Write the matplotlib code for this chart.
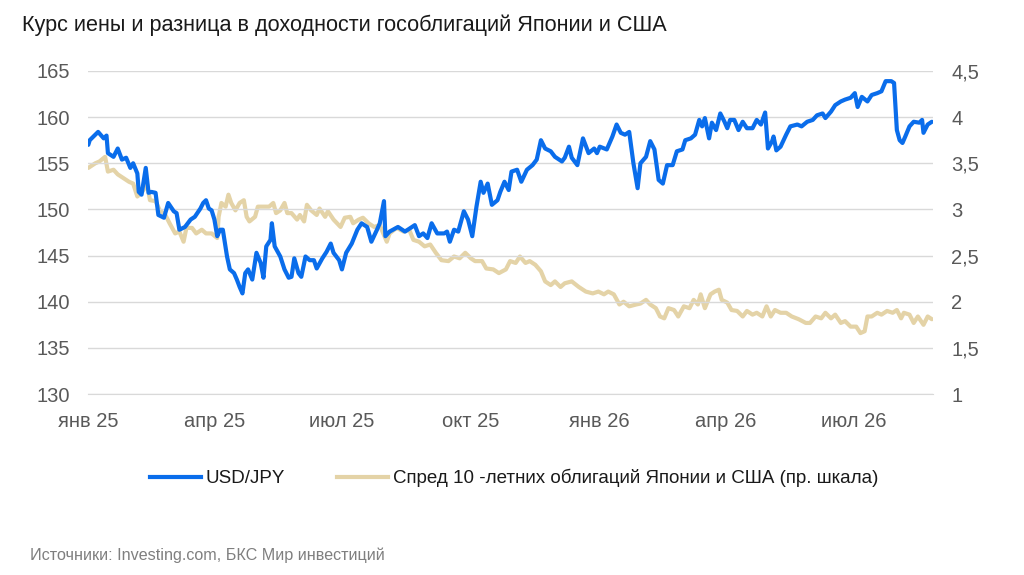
import matplotlib
matplotlib.use("Agg")
import matplotlib.pyplot as plt
import pandas as pd
from matplotlib.lines import Line2D

plt.rcParams['font.family'] = ['Liberation Sans', 'DejaVu Sans']

# ---- data (days since 2025-01-01) ----
usd_days = [0, 1, 7, 11, 13, 14, 18, 21, 24, 27, 30, 32, 35, 36, 38, 41, 43, 45, 48, 50,
            54, 57, 61, 63, 65, 69, 73, 76, 80, 82, 84, 86, 88, 90, 92, 94, 96, 99, 101, 104,
            106, 108, 110, 112, 114, 117, 120, 123, 125, 127, 130, 131, 133, 137, 140, 143, 145, 147, 150, 152,
            155, 158, 161, 163, 167, 170, 173, 175, 179, 181, 184, 188, 192, 195, 199, 202, 206, 208, 211, 212,
            215, 221, 226, 230, 233, 236, 239, 242, 245, 249, 254, 256, 258, 261, 264, 268, 271, 274, 277, 280,
            282, 285, 288, 292, 294, 297, 300, 302, 306, 309, 313, 317, 320, 323, 326, 330, 333, 338, 340, 343,
            345, 349, 353, 357, 361, 363, 365, 370, 374, 377, 380, 383, 386, 389, 392, 394, 398, 401, 404, 407,
            410, 413, 417, 420, 424, 426, 430, 433, 436, 438, 440, 443, 445, 448, 451, 454, 456, 458, 461, 464,
            467, 470, 474, 477, 480, 483, 485, 488, 489, 491, 494, 498, 501, 506, 509, 513, 517, 520, 524, 526,
            530, 533, 537, 540, 544, 547, 549, 552, 556, 559, 563, 566, 569, 573, 575, 577, 579, 581, 583, 586,
            589, 593, 595, 596, 599, 602]
usd_jpy = [157.0, 157.5, 158.4, 157.7, 158.0, 156.1, 155.7, 156.6, 155.4, 155.6, 154.5, 155.0, 153.9, 151.9, 151.6, 154.5, 151.8, 151.9, 151.8, 149.4,
           149.1, 150.7, 149.8, 149.6, 147.8, 148.1, 148.9, 149.2, 150.1, 150.7, 151.0, 150.1, 149.9, 148.9, 147.1, 147.8, 147.8, 144.9, 143.5, 143.1,
           142.4, 141.6, 140.9, 143.1, 143.5, 142.4, 145.3, 144.2, 142.6, 146.0, 146.7, 148.5, 146.0, 144.9, 143.5, 142.6, 142.7, 144.7, 143.1, 142.7,
           144.9, 144.5, 144.5, 143.6, 144.7, 145.4, 146.3, 145.3, 144.5, 143.5, 145.3, 146.3, 147.8, 148.5, 148.1, 146.5, 147.8, 148.5, 150.9, 147.1,
           147.6, 148.1, 147.6, 148.0, 148.3, 147.1, 147.4, 146.9, 148.5, 147.4, 147.4, 147.6, 146.5, 147.8, 147.6, 149.8, 148.9, 147.1, 150.3, 153.0,
           151.8, 152.8, 150.5, 151.0, 151.9, 153.0, 152.1, 154.1, 154.3, 153.0, 154.3, 154.8, 155.4, 157.5, 156.6, 156.3, 155.7, 155.2, 155.6, 156.8,
           155.6, 154.8, 157.7, 156.1, 156.6, 156.1, 156.8, 156.5, 157.9, 159.2, 158.3, 158.1, 158.4, 155.0, 152.3, 155.0, 155.7, 157.4, 156.5, 153.2,
           152.8, 154.8, 154.8, 156.3, 156.5, 157.5, 157.7, 158.1, 159.7, 159.0, 159.9, 157.7, 159.4, 158.6, 160.4, 159.5, 158.8, 159.7, 159.7, 158.6,
           159.5, 158.8, 158.8, 159.7, 159.2, 160.5, 156.6, 157.4, 157.9, 156.4, 156.8, 158.1, 159.0, 159.2, 159.0, 159.5, 159.7, 160.2, 160.4, 159.9,
           160.6, 161.3, 161.7, 161.9, 162.1, 162.6, 161.1, 162.2, 161.7, 162.4, 162.6, 162.8, 163.9, 163.9, 163.7, 158.6, 157.5, 157.2, 157.9, 159.0,
           159.5, 159.4, 159.7, 158.3, 159.2, 159.5]

spread_days = [0, 5, 8, 12, 14, 18, 21, 25, 29, 32, 35, 38, 42, 44, 48, 51, 55, 58, 62, 65,
               68, 70, 74, 77, 81, 84, 88, 92, 93, 95, 98, 100, 102, 105, 108, 111, 113, 115, 119, 121,
               125, 129, 132, 134, 137, 140, 142, 145, 149, 151, 154, 156, 159, 163, 165, 169, 171, 175, 180, 183,
               187, 189, 193, 196, 200, 204, 208, 213, 215, 220, 225, 229, 232, 236, 240, 244, 248, 252, 257, 261,
               265, 269, 273, 276, 281, 284, 289, 293, 298, 301, 305, 308, 312, 315, 319, 323, 326, 330, 333, 337,
               340, 345, 350, 355, 360, 364, 368, 371, 375, 379, 382, 386, 391, 394, 398, 401, 405, 408, 411, 414,
               418, 421, 425, 429, 432, 435, 437, 440, 444, 447, 450, 452, 456, 459, 463, 467, 470, 474, 477, 481,
               484, 487, 490, 494, 498, 502, 507, 512, 515, 519, 523, 526, 530, 533, 537, 540, 544, 548, 551, 554,
               556, 559, 563, 566, 570, 574, 577, 580, 582, 586, 589, 592, 596, 599, 602]
spread = [3.45, 3.50, 3.52, 3.57, 3.41, 3.43, 3.38, 3.34, 3.30, 3.28, 3.14, 3.18, 3.27, 3.10, 3.09, 2.99, 2.94, 2.85, 2.74, 2.76,
          2.65, 2.80, 2.80, 2.74, 2.78, 2.74, 2.74, 2.69, 2.92, 3.07, 3.03, 3.16, 3.07, 2.99, 3.07, 3.10, 2.92, 2.87, 2.92, 3.03,
          3.03, 3.03, 3.07, 2.96, 2.99, 3.07, 2.96, 2.96, 2.89, 2.94, 2.87, 3.05, 2.99, 2.94, 3.01, 2.92, 2.98, 2.89, 2.81, 2.91,
          2.92, 2.85, 2.89, 2.91, 2.85, 2.81, 2.83, 2.65, 2.74, 2.80, 2.76, 2.78, 2.67, 2.65, 2.60, 2.62, 2.53, 2.45, 2.44, 2.49,
          2.47, 2.53, 2.47, 2.44, 2.44, 2.36, 2.35, 2.31, 2.35, 2.44, 2.42, 2.49, 2.42, 2.44, 2.40, 2.33, 2.22, 2.18, 2.22, 2.16,
          2.20, 2.22, 2.16, 2.11, 2.09, 2.11, 2.08, 2.11, 2.08, 1.97, 2.00, 1.95, 1.97, 1.98, 2.02, 1.97, 1.93, 1.84, 1.82, 1.93,
          1.91, 1.84, 1.95, 1.93, 2.02, 1.97, 2.08, 1.93, 2.08, 2.11, 2.13, 2.02, 1.99, 1.91, 1.90, 1.84, 1.90, 1.86, 1.88, 1.84,
          1.95, 1.84, 1.91, 1.88, 1.88, 1.84, 1.81, 1.77, 1.77, 1.84, 1.82, 1.88, 1.82, 1.86, 1.77, 1.79, 1.73, 1.73, 1.66, 1.68,
          1.84, 1.84, 1.88, 1.86, 1.90, 1.88, 1.91, 1.82, 1.88, 1.86, 1.77, 1.84, 1.75, 1.84, 1.81]

left_ticks = [130, 135, 140, 145, 150, 155, 160, 165]
right_ticks = [1, 1.5, 2, 2.5, 3, 3.5, 4, 4.5]
right_tick_labels = ['1', '1,5', '2', '2,5', '3', '3,5', '4', '4,5']
x_tick_dates = ['2025-01-01', '2025-04-01', '2025-07-01', '2025-10-01',
                '2026-01-01', '2026-04-01', '2026-07-01']
x_tick_labels = ['янв 25', 'апр 25', 'июл 25', 'окт 25', 'янв 26', 'апр 26', 'июл 26']

title = 'Курс иены и разница в доходности гособлигаций Японии и США'
source = 'Источники: Investing.com, БКС Мир инвестиций'
label_usd = 'USD/JPY'
label_spread = 'Спред 10 -летних облигаций Японии и США (пр. шкала)'

BLUE = '#0A6DEB'
BEIGE = '#E4D3A7'
GRID = '#D9D9D9'
TICK = '#595959'

base = pd.Timestamp('2025-01-01')
usd_dates = base + pd.to_timedelta(usd_days, unit='D')
spread_dates = base + pd.to_timedelta(spread_days, unit='D')

fig = plt.figure(figsize=(10.24, 5.75), dpi=100)
ax = fig.add_axes([88.3 / 1024, 1 - 394 / 575, (933.3 - 88.3) / 1024, (394 - 71) / 575])
ax2 = ax.twinx()

ax2.plot(spread_dates, spread, color=BEIGE, lw=3.0, solid_joinstyle='round', solid_capstyle='round')
ax.plot(usd_dates, usd_jpy, color=BLUE, lw=3.0, solid_joinstyle='round', solid_capstyle='round')

ax.set_zorder(ax2.get_zorder() + 1)
ax.patch.set_visible(False)

ax.set_ylim(130, 165)
ax2.set_ylim(1, 4.5)
ax.set_yticks(left_ticks)
ax.set_yticklabels([str(t) for t in left_ticks])
ax2.set_yticks(right_ticks)
ax2.set_yticklabels(right_tick_labels)

ax.set_xlim(base, pd.Timestamp('2026-08-27'))
ax.set_xticks(pd.to_datetime(x_tick_dates))
ax.set_xticklabels(x_tick_labels)

ax.yaxis.grid(True, color=GRID, lw=1.0)
ax.set_axisbelow(True)
for a in (ax, ax2):
    for s in a.spines.values():
        s.set_visible(False)
ax.spines['bottom'].set_visible(True)
ax.spines['bottom'].set_color(GRID)
ax.tick_params(axis='both', length=0, labelsize=14.5, colors=TICK)
ax.tick_params(axis='y', pad=13)
ax.tick_params(axis='x', pad=13)
ax2.tick_params(axis='y', length=0, labelsize=14.5, colors=TICK, pad=13)

fig.text(22 / 1024, 1 - 25 / 575, title, fontsize=15.6, color='#1a1a1a', ha='left', va='center')
fig.text(30 / 1024, 1 - 555 / 575, source, fontsize=11.6, color='#7f7f7f', ha='left', va='center')

handles = [Line2D([], [], color=BLUE, lw=3.0), Line2D([], [], color=BEIGE, lw=3.0)]
fig.legend(handles, [label_usd, label_spread], loc='center', bbox_to_anchor=(514 / 1024, 1 - 478 / 575),
           ncol=2, frameon=False, fontsize=13.5, handlelength=2.7, handletextpad=0.25, columnspacing=2.8,
           labelcolor='#1a1a1a')

fig.savefig('out.png', dpi=100)
